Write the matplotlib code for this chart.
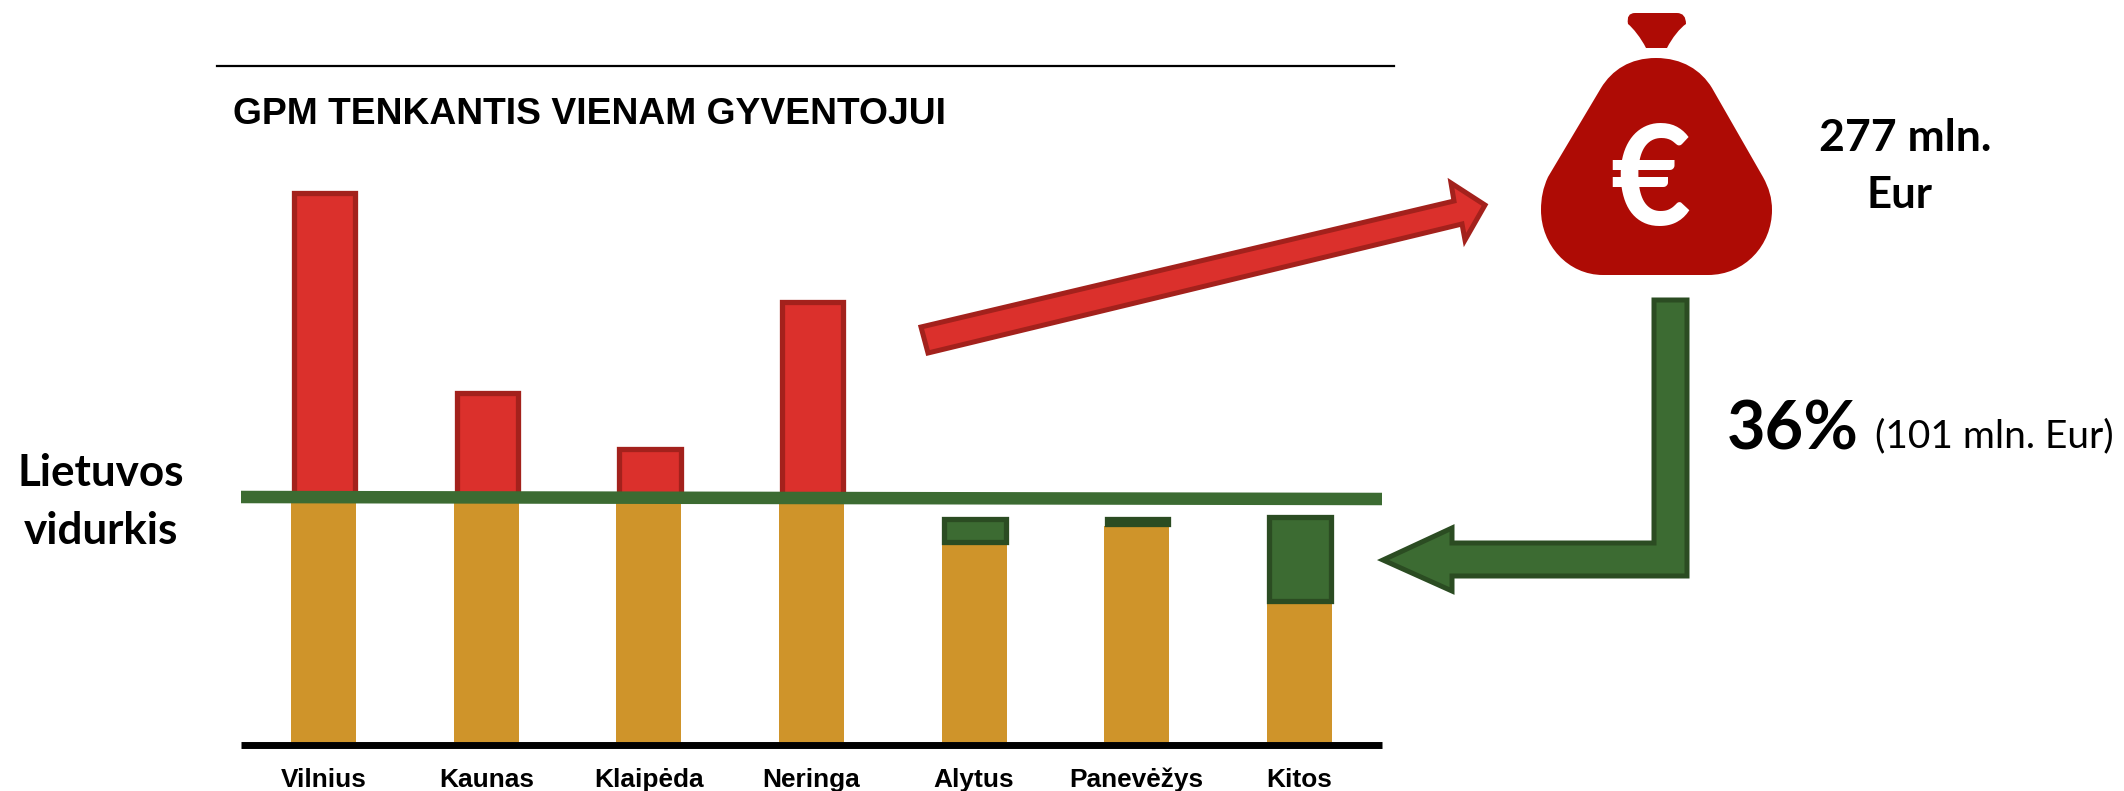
import numpy as np
import matplotlib
matplotlib.use("Agg")
import matplotlib.pyplot as plt
from matplotlib.patches import Polygon, PathPatch
from matplotlib.path import Path

# -------------------------------------------------
# Data (arbitrary units)
# -------------------------------------------------
miestai = ['Vilnius', 'Kaunas', 'Klaipėda', 'Neringa', 'Alytus', 'Panevėžys', 'Kitos']
vidurkis = [245, 243]
virs_vid = [549, 349, 293, 440]            # first four towns, above average
orange_h = [245, 245, 245, 245, 198, 216, 139]
green_top = [223, 223, 225]                # last three towns, after redistribution

RED = '#db302c'
RED_D = '#a3211c'
ORANGE = '#cf942a'
GREEN = '#3c6b32'
GREEN_D = '#2b4c22'
BAG = '#ae0b05'

W, H = 2124, 791
fig = plt.figure(figsize=(W/100, H/100), dpi=100, facecolor='white')

# -------------------------------------------------
# Bars
# -------------------------------------------------
ax = fig.add_axes([241/W, 1-742/H, (1382-241)/W, 600/H])
x = np.arange(len(miestai))
ax.set_xlim(-0.5086, 6.509)
ax.set_ylim(0, 600)

ax.bar(x, orange_h, width=0.4, color=ORANGE, zorder=2)

x_red = x[:4] + 0.006
ax.bar(x_red, np.array(virs_vid)-245, bottom=245, width=0.378, color=RED,
       edgecolor=RED_D, linewidth=3.8, zorder=3)

x_gr = x[4:] + 0.006
low = np.array(orange_h[4:]) + 2.5
ax.bar(x_gr, np.array(green_top)-low, bottom=low, width=0.378, color=GREEN,
       edgecolor=GREEN_D, linewidth=3.8, zorder=3)

ax.plot(ax.get_xlim(), vidurkis, color=GREEN, lw=9, solid_capstyle='butt', zorder=4)

for s in ['top', 'left', 'right']:
    ax.spines[s].set_visible(False)
ax.spines['bottom'].set_linewidth(5)
ax.spines['bottom'].set_capstyle('butt')
ax.spines['bottom'].set_position(('outward', 2.5))
ax.set_yticks([])
ax.set_xticks(x)
ax.set_xticklabels(miestai, family='Liberation Sans', fontweight='bold', fontsize=18.9)
ax.tick_params(axis='x', length=0, pad=16)
ax.patch.set_alpha(0)

# -------------------------------------------------
# Overlay in picture pixels: arrows, bag, text
# -------------------------------------------------
ov = fig.add_axes([0, 0, 1, 1])
ov.set_xlim(0, W)
ov.set_ylim(H, 0)
ov.axis('off')
ov.patch.set_alpha(0)

ov.plot([217, 1394], [66, 66], color='black', lw=1.6)
ov.text(233, 114, 'GPM TENKANTIS VIENAM GYVENTOJUI', family='Liberation Sans',
        fontweight='bold', fontsize=26.8, ha='left', va='center')

# red arrow
red_arrow = [(921, 327), (928, 353), (1462, 224), (1465, 240), (1485, 205),
             (1451, 183), (1454, 201)]
ov.add_patch(Polygon(red_arrow, closed=True, fc=RED, ec=RED_D, lw=3.6, joinstyle='miter'))

# green arrow
green_arrow = [(1654, 300), (1687, 300), (1687, 576), (1452, 576), (1452, 591),
               (1383, 560), (1452, 528), (1452, 543), (1654, 543)]
ov.add_patch(Polygon(green_arrow, closed=True, fc=GREEN, ec=GREEN_D, lw=3.6, joinstyle='miter'))

# money bag
verts = [(1656, 58),
         (1630, 58), (1612, 70), (1601, 88),
         (1548, 177),
         (1543, 188), (1541, 198), (1541, 210),
         (1541, 245), (1568, 275), (1603, 275),
         (1708, 275),
         (1745, 275), (1772, 245), (1772, 210),
         (1772, 198), (1769, 188), (1763, 177),
         (1712, 88),
         (1701, 70), (1682, 58), (1656, 58)]
codes = [Path.MOVETO,
         Path.CURVE4, Path.CURVE4, Path.CURVE4,
         Path.LINETO,
         Path.CURVE4, Path.CURVE4, Path.CURVE4,
         Path.CURVE4, Path.CURVE4, Path.CURVE4,
         Path.LINETO,
         Path.CURVE4, Path.CURVE4, Path.CURVE4,
         Path.CURVE4, Path.CURVE4, Path.CURVE4,
         Path.LINETO,
         Path.CURVE4, Path.CURVE4, Path.CURVE4]
ov.add_patch(PathPatch(Path(verts, codes), fc=BAG, ec='none'))

knot = [(1635, 13), (1677, 13),
        (1686, 13), (1686, 24),
        (1680, 28), (1672, 38), (1667, 48),
        (1646, 48),
        (1641, 38), (1633, 28), (1628, 24),
        (1626, 13), (1635, 13)]
knot_codes = [Path.MOVETO, Path.LINETO,
              Path.CURVE3, Path.CURVE3,
              Path.CURVE4, Path.CURVE4, Path.CURVE4,
              Path.LINETO,
              Path.CURVE4, Path.CURVE4, Path.CURVE4,
              Path.CURVE3, Path.CURVE3]
ov.add_patch(PathPatch(Path(knot, knot_codes), fc=BAG, ec='none'))

ov.text(1650, 185, '€', color='white', family='Lato', fontweight='bold',
        fontsize=100, ha='center', va='center')

ov.text(101, 473, 'Lietuvos', family='Lato', fontweight='bold', fontsize=31.7, ha='center', va='center')
ov.text(101, 531, 'vidurkis', family='Lato', fontweight='bold', fontsize=31.7, ha='center', va='center')
ov.text(1905, 138, '277 mln.', family='Lato', fontweight='bold', fontsize=32, ha='center', va='center')
ov.text(1899, 195, 'Eur', family='Lato', fontweight='bold', fontsize=31.5, ha='center', va='center')
ov.text(1727, 430, '36%', family='Lato', fontweight='bold', fontsize=48, ha='left', va='center')
ov.text(1875, 436, '(101 mln. Eur)', family='Lato', fontsize=28, ha='left', va='center')

fig.savefig('out.png', dpi=100)
